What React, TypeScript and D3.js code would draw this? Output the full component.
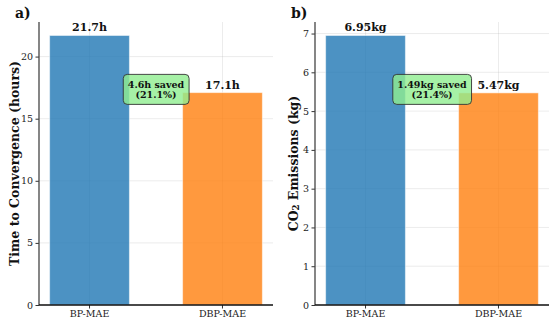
import { select, scaleLinear, scaleBand, axisLeft, axisBottom } from "d3";
import React, { useEffect, useRef } from "react";

const categories = ["BP-MAE", "DBP-MAE"];
const timeHours = [21.7, 17.1];
const co2Kg = [6.95, 5.47];
const timeTicks = [0, 5, 10, 15, 20];
const co2Ticks = [0, 1, 2, 3, 4, 5, 6, 7];
// savings as printed in the annotation boxes (from unrounded data)
const savedAmount = ["4.6h", "1.49kg"];
const savedPercent = [21.1, 21.4];
const barColors = ["#1f77b4", "#ff7f0e"];

const WIDTH = 555;
const HEIGHT = 326;
const FONT = "'DejaVu Serif', serif";

const panels = [
  {
    letter: "a)",
    values: timeHours,
    ticks: timeTicks,
    unit: "h",
    digits: 1,
    label: ["Time to Convergence (hours)"],
    left: 39,
    right: 273,
    labelX: 14,
    titleX: 15,
  },
  {
    letter: "b)",
    values: co2Kg,
    ticks: co2Ticks,
    unit: "kg",
    digits: 2,
    label: ["CO", "2", " Emissions (kg)"],
    left: 315,
    right: 549,
    labelX: 293,
    titleX: 291,
  },
];

const top = 22;
const bottom = 305;

const App = () => {
  const svgRef = useRef<SVGSVGElement>(null);

  useEffect(() => {
    const svg = select(svgRef.current);
    svg.selectAll("*").remove();

    panels.forEach((p, pi) => {
      const g = svg.append("g");
      const maxV = Math.max(...p.values);

      const yScale = scaleLinear()
        .domain([0, maxV * 1.05])
        .range([bottom, top]);

      // category centres at 0 and 1, bars 0.6 wide, 5% margins
      const xLin = scaleLinear()
        .domain([-0.38, 1.38])
        .range([p.left, p.right]);
      const bandW = xLin(0.6) - xLin(0);

      // grid
      g.append("g")
        .selectAll("line")
        .data(p.ticks)
        .join("line")
        .attr("x1", p.left)
        .attr("x2", p.right)
        .attr("y1", (d) => yScale(d))
        .attr("y2", (d) => yScale(d))
        .attr("stroke", "#b0b0b0")
        .attr("stroke-opacity", 0.3)
        .attr("stroke-width", 0.8);
      g.append("g")
        .selectAll("line")
        .data(categories)
        .join("line")
        .attr("x1", (_, i) => xLin(i))
        .attr("x2", (_, i) => xLin(i))
        .attr("y1", top)
        .attr("y2", bottom)
        .attr("stroke", "#b0b0b0")
        .attr("stroke-opacity", 0.3)
        .attr("stroke-width", 0.8);

      // bars
      g.append("g")
        .selectAll("rect")
        .data(p.values)
        .join("rect")
        .attr("x", (_, i) => xLin(i) - bandW / 2)
        .attr("width", bandW)
        .attr("y", (d) => yScale(d))
        .attr("height", (d) => bottom - yScale(d))
        .attr("fill", (_, i) => barColors[i])
        .attr("fill-opacity", 0.8)
        .attr("stroke", "#ffffff")
        .attr("stroke-opacity", 0.5)
        .attr("stroke-width", 1);

      // value labels
      g.append("g")
        .selectAll("text")
        .data(p.values)
        .join("text")
        .attr("x", (_, i) => xLin(i))
        .attr("y", (d) => yScale(d) - 4)
        .attr("text-anchor", "middle")
        .attr("font-family", FONT)
        .attr("font-weight", "bold")
        .attr("font-size", 11)
        .attr("fill", "#111")
        .text((d) => `${d.toFixed(p.digits)}${p.unit}`);

      // y axis
      const yAxis = axisLeft(yScale).tickValues(p.ticks).tickSize(3.5).tickPadding(2.5);
      g.append("g")
        .attr("transform", `translate(${p.left},0)`)
        .call(yAxis)
        .call((a) => a.select(".domain").remove())
        .call((a) =>
          a.selectAll("text").attr("font-family", FONT).attr("font-size", 9.5).attr("fill", "#222"),
        )
        .call((a) => a.selectAll("line").attr("stroke", "#333"));

      // x axis
      const xBand = scaleBand()
        .domain(categories)
        .range([xLin(-0.5), xLin(1.5)]);
      const xAxis = axisBottom(xBand).tickSize(3.5).tickPadding(2);
      g.append("g")
        .attr("transform", `translate(0,${bottom})`)
        .call(xAxis)
        .call((a) => a.select(".domain").remove())
        .call((a) =>
          a.selectAll("text").attr("font-family", FONT).attr("font-size", 9.5).attr("fill", "#222"),
        )
        .call((a) => a.selectAll("line").attr("stroke", "#333"));

      // spines
      g.append("line")
        .attr("x1", p.left)
        .attr("x2", p.left)
        .attr("y1", top)
        .attr("y2", bottom)
        .attr("stroke", "#444")
        .attr("stroke-width", 1.3);
      g.append("line")
        .attr("x1", p.left)
        .attr("x2", p.right)
        .attr("y1", bottom)
        .attr("y2", bottom)
        .attr("stroke", "#111")
        .attr("stroke-width", 1.3);

      // y label
      const yl = g
        .append("text")
        .attr("transform", `translate(${p.labelX},${(top + bottom) / 2}) rotate(-90)`)
        .attr("text-anchor", "middle")
        .attr("dominant-baseline", "central")
        .attr("font-family", FONT)
        .attr("font-weight", "bold")
        .attr("font-size", 12.5)
        .attr("fill", "#111");
      if (p.label.length === 1) {
        yl.text(p.label[0]);
      } else {
        yl.append("tspan").text(p.label[0]);
        yl.append("tspan").attr("font-size", 8.5).attr("dy", 3).text(p.label[1]);
        yl.append("tspan").attr("dy", -3).text(p.label[2]);
      }

      // panel letter
      g.append("text")
        .attr("x", p.titleX)
        .attr("y", 18)
        .attr("font-family", FONT)
        .attr("font-weight", "bold")
        .attr("font-size", 14)
        .attr("fill", "#111")
        .text(p.letter);

      // savings annotation
      const cx = xLin(0.5);
      const cy = yScale(maxV * 0.8);
      const ann = g.append("g");
      const box = ann.append("rect");
      const txt = ann
        .append("text")
        .attr("text-anchor", "middle")
        .attr("font-family", FONT)
        .attr("font-weight", "bold")
        .attr("font-size", 9.5)
        .attr("fill", "#111");
      txt.append("tspan").attr("x", cx).attr("y", cy - 1.5).text(`${savedAmount[pi]} saved`);
      txt.append("tspan").attr("x", cx).attr("y", cy + 8.5).text(`(${savedPercent[pi].toFixed(1)}%)`);
      const bb = (txt.node() as SVGTextElement).getBBox();
      const pad = 4.5;
      box
        .attr("x", bb.x - pad)
        .attr("y", cy - 15)
        .attr("width", bb.width + pad * 2)
        .attr("height", 30)
        .attr("rx", 4)
        .attr("fill", "#90ee90")
        .attr("fill-opacity", 0.8)
        .attr("stroke", "#333")
        .attr("stroke-width", 0.9);
    });
  }, []);

  return (
    <svg
      ref={svgRef}
      width={WIDTH}
      height={HEIGHT}
      style={{ position: "absolute", left: 0, top: 0, background: "#fff" }}
    />
  );
};

export default App;
